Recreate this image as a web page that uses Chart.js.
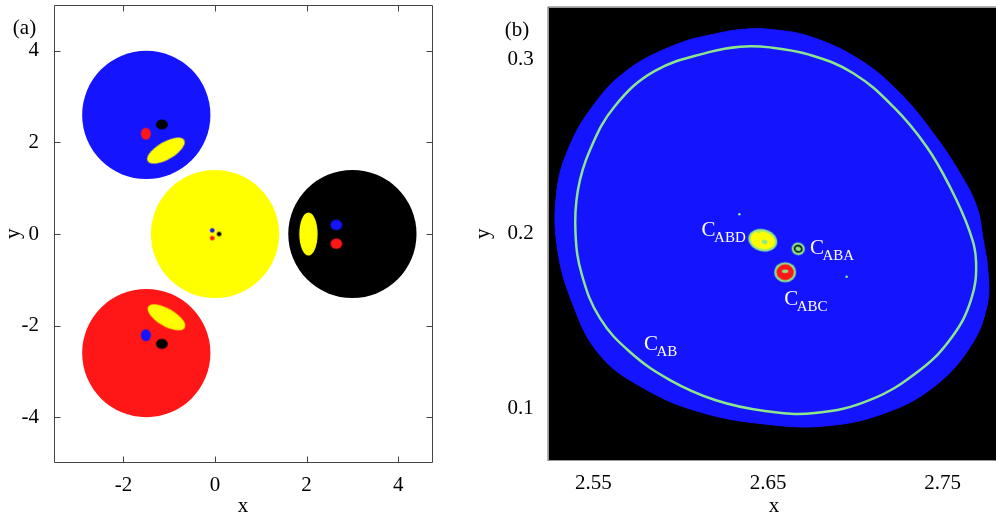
<!DOCTYPE html>
<html><head><meta charset="utf-8">
<script src="https://cdn.jsdelivr.net/npm/chart.js@4"></script>
<style>
html,body{margin:0;padding:0;background:#fff;overflow:hidden;width:996px;height:515px;}
#ca{position:absolute;left:0;top:0;}
#cb{position:absolute;left:475px;top:0;}
</style></head><body>
<canvas id="ca" width="475" height="515"></canvas>
<canvas id="cb" width="521" height="515"></canvas>
<script>
// ---------------- Panel (a) data ----------------
const aXRange = [-3.515, 4.76];
const aYRange = [-5, 5];
const aXTicks = [-2, 0, 2, 4];
const aYTicks = [-4, -2, 0, 2, 4];
const diskX = [-1.5, 0, 3, -1.5];
const diskY = [2.6, 0, 0, -2.6];
const diskR = [1.4, 1.4, 1.4, 1.4];
const diskKind = ['blue', 'yellow', 'black', 'red'];
// islands inside disks (centre, semi-axes in data units, tilt in degrees)
const blobX = [-1.07, -1.16, -1.51, -1.06, -1.51, -1.16, 2.04, 2.65, 2.65, -0.06, -0.06, 0.09];
const blobY = [1.82, 2.39, 2.19, -1.82, -2.21, -2.40, 0.0, 0.20, -0.21, 0.08, -0.09, 0.0];
const blobA = [0.46, 0.13, 0.11, 0.46, 0.11, 0.13, 0.20, 0.127, 0.127, 0.05, 0.05, 0.05];
const blobB = [0.19, 0.11, 0.13, 0.19, 0.13, 0.11, 0.47, 0.116, 0.116, 0.05, 0.05, 0.05];
const blobAngle = [-30, 0, 0, 30, 0, 0, 0, 0, 0, 0, 0, 0];
const blobKind = ['yellow', 'black', 'red', 'yellow', 'blue', 'black', 'yellow', 'blue', 'red', 'blue', 'red', 'black'];

// ---------------- Panel (b) data ----------------
const bXRange = [2.5239, 2.7805];
const bYRange = [0.0700, 0.3301];
const bXTicks = [2.55, 2.65, 2.75];
const bYTicks = [0.1, 0.2, 0.3];
// outer boundary of the blue basin (clockwise from the top)
const outerX = [2.6368, 2.6511, 2.6740, 2.7027, 2.7256, 2.7446, 2.7599, 2.7695, 2.7732, 2.7759, 2.7754, 2.7664, 2.7455, 2.7169, 2.6826, 2.6483, 2.6111, 2.5796, 2.5538, 2.5378, 2.5292, 2.5292, 2.5355, 2.5481, 2.5681, 2.5968, 2.6225];
const outerY = [0.3172, 0.3171, 0.3130, 0.2996, 0.2805, 0.2576, 0.2347, 0.2155, 0.1964, 0.1781, 0.1592, 0.1363, 0.1128, 0.0973, 0.0899, 0.0910, 0.0979, 0.1111, 0.1305, 0.1609, 0.1936, 0.2251, 0.2480, 0.2709, 0.2927, 0.3082, 0.3151];
// closed curve C_AB
const ringX = [2.6340, 2.6511, 2.6740, 2.6988, 2.7217, 2.7408, 2.7542, 2.7651, 2.7691, 2.7662, 2.7553, 2.7370, 2.7084, 2.6769, 2.6483, 2.6197, 2.5939, 2.5710, 2.5538, 2.5435, 2.5398, 2.5412, 2.5481, 2.5624, 2.5853, 2.6168];
const ringY = [0.3072, 0.3068, 0.3025, 0.2920, 0.2728, 0.2499, 0.2268, 0.2022, 0.1838, 0.1621, 0.1409, 0.1220, 0.1048, 0.0973, 0.0985, 0.1048, 0.1162, 0.1323, 0.1517, 0.1764, 0.2005, 0.2251, 0.2480, 0.2732, 0.2933, 0.3042];
const islandName = ['ABD', 'ABA', 'ABC'];
const islandX = [2.6470, 2.6673, 2.6598];
const islandY = [0.1963, 0.1914, 0.1780];
const islandA = [0.0084, 0.0038, 0.0062];
const islandB = [0.0063, 0.0036, 0.0058];
const islandAngle = [15, 20, 0];
const speckX = [2.6336, 2.6950];
const speckY = [0.2112, 0.1754];
const curveLabel = ['AB', 'ABD', 'ABA', 'ABC'];
const curveLabelX = [2.5790, 2.6120, 2.6740, 2.6593];
const curveLabelY = [0.1337, 0.1990, 0.1887, 0.1592];

// ---------------- styling ----------------
const COL = {blue: '#1414ff', red: '#ff1616', yellow: '#ffff00', black: '#000000', green: '#8ce68c'};
const SERIF = "'Liberation Serif', 'DejaVu Serif', serif";
const FS = 21;
Chart.defaults.font.family = SERIF;
Chart.defaults.font.size = FS;
Chart.defaults.color = '#000';

function ppu(scale) { return Math.abs(scale.getPixelForValue(1) - scale.getPixelForValue(0)); }
const cache = {};
function makeCanvas(key, a, b, painter) {
  if (cache[key]) return cache[key];
  const pad = 2;
  const w = Math.ceil(2 * a + 2 * pad), h = Math.ceil(2 * b + 2 * pad);
  const c = document.createElement('canvas');
  c.width = w; c.height = h;
  const g = c.getContext('2d');
  painter(g, w / 2, h / 2, a, b);
  cache[key] = c;
  return c;
}
function ell(g, cx, cy, a, b, fill) {
  g.fillStyle = fill; g.beginPath(); g.ellipse(cx, cy, Math.max(a, 0.5), Math.max(b, 0.5), 0, 0, 2 * Math.PI); g.fill();
}
function blobStyle(ctx) {
  const ch = ctx.chart, i = ctx.dataIndex;
  if (!ch.scales.x || !isFinite(ppu(ch.scales.x))) return 'circle';
  const a = blobA[i] * ppu(ch.scales.x), b = blobB[i] * ppu(ch.scales.y);
  return makeCanvas('a' + i + '_' + a.toFixed(2), a, b, (g, cx, cy) => ell(g, cx, cy, a, b, COL[blobKind[i]]));
}
function islandStyle(ctx) {
  const ch = ctx.chart, i = ctx.dataIndex;
  if (!ch.scales.x || !isFinite(ppu(ch.scales.x))) return 'circle';
  const a = islandA[i] * ppu(ch.scales.x), b = islandB[i] * ppu(ch.scales.y);
  const kind = islandName[i];
  return makeCanvas('b' + i + '_' + a.toFixed(2), a, b, (g, cx, cy) => {
    ell(g, cx, cy, a, b, COL.green);
    if (kind === 'ABD') {
      ell(g, cx, cy, a - 2.2, b - 2.2, COL.yellow);
      ell(g, cx + 0.15 * a, cy + 0.1 * b, 0.2 * a, 0.2 * b, COL.green);
      ell(g, cx - 0.4 * a, cy - 0.6 * b, 1, 1, COL.green);
    } else if (kind === 'ABA') {
      g.strokeStyle = '#000'; g.lineWidth = 1.6; g.beginPath();
      g.ellipse(cx, cy, a * 0.55, b * 0.5, 0, 0, 2 * Math.PI); g.stroke();
    } else {
      ell(g, cx, cy, a - 2.2, b - 2.2, COL.red);
      ell(g, cx, cy - 0.1 * b, 0.3 * a, 0.18 * b, COL.green);
    }
  });
}
function pts(xs, ys) { return xs.map((x, i) => ({x: x, y: ys[i]})); }

// make the line element of datasets flagged "closed" a closed smooth loop (as radar lines are)
function closeLines(chart) {
  chart.data.datasets.forEach((ds, i) => {
    if (!ds.closed) return;
    const line = chart.getDatasetMeta(i).dataset;
    if (!line) return;
    line._loop = true;
    line._fullLoop = true;
    delete line._segments;
    delete line._path;
    line._pointsUpdated = false;
    if (chart.chartArea) line.updateControlPoints(chart.chartArea, 'x');
  });
}
const closePlugin = {
  id: 'closeLoop',
  afterDatasetsUpdate(chart) { closeLines(chart); },
  beforeDatasetsDraw(chart) {
    chart.data.datasets.forEach((ds, i) => {
      const line = ds.closed && chart.getDatasetMeta(i).dataset;
      if (line && !line._fullLoop) closeLines(chart);
    });
  }
};
// frame + inward ticks + background
const framePlugin = {
  id: 'frame',
  beforeDatasetsDraw(chart, args, o) {
    const a = chart.chartArea, g = chart.ctx;
    if (o.bg) { g.save(); g.fillStyle = o.bg; g.fillRect(a.left, a.top, a.right - a.left, a.bottom - a.top); g.restore(); }
  },
  afterDatasetsDraw(chart, args, o) {
    const a = chart.chartArea, g = chart.ctx;
    g.save();
    g.strokeStyle = o.color; g.lineWidth = 1;
    const L = Math.round(a.left) + 0.5, R = Math.round(a.right) - 0.5, T = Math.round(a.top) + 0.5, B = Math.round(a.bottom) - 0.5;
    g.beginPath();
    g.moveTo(L, T); g.lineTo(L, B);
    g.moveTo(L, B); g.lineTo(R, B);
    g.moveTo(L, T); g.lineTo(o.right ? R : a.right, T);
    if (o.right) { g.moveTo(R, T); g.lineTo(R, B); }
    if (o.tick) {
      chart.scales.x.ticks.forEach(t => {
        const p = Math.round(chart.scales.x.getPixelForValue(t.value)) + 0.5;
        g.moveTo(p, B); g.lineTo(p, B - o.tick);
        g.moveTo(p, T); g.lineTo(p, T + o.tick);
      });
      chart.scales.y.ticks.forEach(t => {
        const p = Math.round(chart.scales.y.getPixelForValue(t.value)) + 0.5;
        g.moveTo(L, p); g.lineTo(L + o.tick, p);
        g.moveTo(R, p); g.lineTo(R - o.tick, p);
      });
    }
    g.stroke();
    g.restore();
  }
};
// panel texts
const textPlugin = {
  id: 'texts',
  afterDraw(chart, args, o) {
    const g = chart.ctx;
    g.save();
    (o.items || []).forEach(it => {
      g.save();
      g.font = (it.size || FS) + 'px ' + SERIF;
      g.fillStyle = it.color || '#000';
      g.textAlign = it.align || 'center';
      g.textBaseline = it.base || 'alphabetic';
      g.translate(it.x, it.y);
      if (it.rot) g.rotate(it.rot);
      g.fillText(it.text, 0, 0);
      g.restore();
    });
    if (o.curves) {
      const sx = chart.scales.x, sy = chart.scales.y;
      curveLabel.forEach((s, i) => {
        const x = sx.getPixelForValue(curveLabelX[i]), y = sy.getPixelForValue(curveLabelY[i]);
        g.fillStyle = '#fff'; g.textAlign = 'left'; g.textBaseline = 'alphabetic';
        g.font = '21px ' + SERIF;
        g.fillText('C', x, y);
        const w = g.measureText('C').width;
        g.font = '15px ' + SERIF;
        g.fillText(s, x + w - 1.5, y + 6);
      });
    }
    g.restore();
  }
};

function axis(range, ticks, fixed, isX, pad) {
  return {
    type: 'linear', min: range[0], max: range[1],
    afterBuildTicks: s => { s.ticks = ticks.map(v => ({value: v})); },
    afterFit: s => {
      if (isX) { s.height = fixed; s.paddingLeft = 0; s.paddingRight = 0; }
      else { s.width = fixed; s.paddingTop = 0; s.paddingBottom = 0; }
    },
    grid: {display: false, drawTicks: false},
    border: {display: false},
    ticks: {padding: pad, autoSkip: false, maxRotation: 0, color: '#000', font: {size: FS}, callback: v => String(v)}
  };
}

// ---------------- Chart (a) ----------------
new Chart(document.getElementById('ca'), {
  type: 'scatter',
  data: {datasets: [
    {label: 'islands', data: pts(blobX, blobY), order: 1, pointStyle: blobStyle,
      pointRotation: ctx => blobAngle[ctx.dataIndex], pointRadius: 3, pointBorderWidth: 0},
    {label: 'disks', data: pts(diskX, diskY), order: 2,
      pointRadius: ctx => (ctx.chart.scales.x ? diskR[ctx.dataIndex] * ppu(ctx.chart.scales.x) : 0),
      pointBackgroundColor: diskKind.map(k => COL[k]), pointBorderWidth: 0}
  ]},
  options: {
    responsive: false, animation: false, events: [],
    layout: {autoPadding: false, padding: {top: 5, right: 42, left: 0, bottom: 0}},
    scales: {x: axis(aXRange, aXTicks, 52, true, 9.5), y: axis(aYRange, aYTicks, 54, false, 15)},
    plugins: {
      legend: {display: false}, tooltip: {enabled: false},
      frame: {color: '#444', tick: 6, right: true},
      texts: {items: [
        {text: '(a)', x: 24.5, y: 34},
        {text: 'y', x: 19, y: 233.7, rot: -Math.PI / 2},
        {text: 'x', x: 243, y: 512}
      ]}
    }
  },
  plugins: [framePlugin, textPlugin]
});

// ---------------- Chart (b) ----------------
new Chart(document.getElementById('cb'), {
  type: 'scatter',
  data: {datasets: [
    {label: 'islands', data: pts(islandX, islandY), order: 1, pointStyle: islandStyle,
      pointRotation: ctx => islandAngle[ctx.dataIndex], pointRadius: 3, pointBorderWidth: 0},
    {label: 'specks', data: pts(speckX, speckY), order: 1, pointRadius: 1.3,
      pointBackgroundColor: COL.green, pointBorderWidth: 0},
    {label: 'C_AB', data: pts(ringX, ringY), closed: true, order: 3, showLine: true, tension: 0.4,
      borderColor: COL.green, borderWidth: 2.5, pointRadius: 0, fill: false},
    {label: 'basin', data: pts(outerX, outerY), closed: true, order: 4, showLine: true, tension: 0.4,
      borderColor: COL.blue, borderWidth: 1, backgroundColor: COL.blue, pointRadius: 0, fill: 'shape'}
  ]},
  options: {
    responsive: false, animation: false, events: [],
    layout: {autoPadding: false, padding: {top: 6.7, right: 0, left: 0, bottom: 0}},
    scales: {x: axis(bXRange, bXTicks, 54.3, true, 10), y: axis(bYRange, bYTicks, 72.7, false, 14)},
    plugins: {
      legend: {display: false}, tooltip: {enabled: false},
      frame: {color: '#999', tick: 0, right: false, bg: '#000'},
      texts: {curves: true, items: [
        {text: '(b)', x: 42, y: 36},
        {text: 'y', x: 14, y: 233.8, rot: -Math.PI / 2},
        {text: 'x', x: 299, y: 512}
      ]}
    }
  },
  plugins: [closePlugin, framePlugin, textPlugin]
});
</script>
</body></html>
